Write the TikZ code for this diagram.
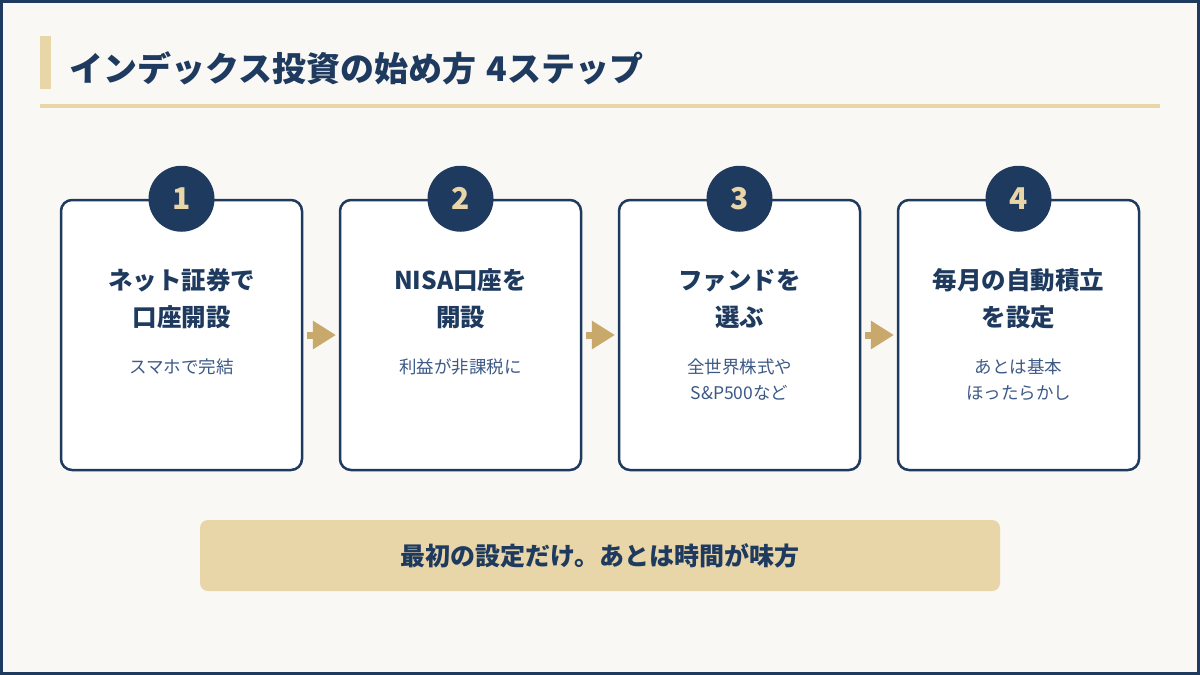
\documentclass[tikz,border=0pt]{standalone}
\usepackage{fontspec}
\setmainfont{Noto Sans CJK JP}
\usepackage{tikz}
\usetikzlibrary{positioning,arrows.meta}
\usepackage{xcolor}
\definecolor{navy}{HTML}{1F3A5F}
\definecolor{sand}{HTML}{E8D5A8}
\definecolor{gold}{HTML}{C8A96B}
\definecolor{paper}{HTML}{FAF8F4}
\definecolor{subblue}{HTML}{3D5A87}

\begin{document}
\begin{tikzpicture}[x=1pt,y=-1pt,
    card/.style={draw=navy, line width=2.5pt, fill=white, rounded corners=11pt,
      minimum width=241pt, minimum height=270pt},
    badge/.style={circle, fill=navy, minimum size=66pt, inner sep=0pt,
      text=sand, font=\fontsize{30}{30}\selectfont\bfseries},
    headtxt/.style={align=center, text=navy, font=\fontsize{24.5}{37}\selectfont\bfseries},
    subtxt/.style={align=center, text=subblue, font=\fontsize{17.5}{26}\selectfont},
    flow/.style={gold, line width=7pt, -{Triangle[length=23pt,width=27pt]},
      shorten <=3.7pt, shorten >=2.8pt}]
    % page
    \useasboundingbox (0,0) rectangle (1200,675);
    \fill[paper] (0,0) rectangle (1200,675);
    \draw[navy, line width=3pt] (1.5,1.5) rectangle (1198.5,673.5);

    % title
    \fill[sand] (40,36) rectangle (51,89);
    \node[anchor=west, text=navy, font=\fontsize{34}{34}\selectfont\bfseries, inner sep=0pt]
      (title) at (69,68) {インデックス投資の始め方\hspace{0.3em}4ステップ};
    \fill[sand] (40,104) rectangle (1160,107.5);

    % cards
    \node[card] (c1) at (181.5,335) {};
    \node[card] (c2) at (460.5,335) {};
    \node[card] (c3) at (739.5,335) {};
    \node[card] (c4) at (1018.5,335) {};

    % step numbers
    \node[badge] (n1) at (c1.north) {1};
    \node[badge] (n2) at (c2.north) {2};
    \node[badge] (n3) at (c3.north) {3};
    \node[badge] (n4) at (c4.north) {4};

    % step texts
    \node[headtxt] (h1) at (181.5,298.5) {ネット証券で\\口座開設};
    \node[subtxt] (s1) at (181.5,367) {スマホで完結};
    \node[headtxt] (h2) at (460.5,298.5) {NISA口座を\\開設};
    \node[subtxt] (s2) at (460.5,367) {利益が非課税に};
    \node[headtxt] (h3) at (739.5,298.5) {ファンドを\\選ぶ};
    \node[subtxt] (s3) at (739.5,380) {全世界株式や\\S\&P500など};
    \node[headtxt] (h4) at (1018.5,298.5) {毎月の自動積立\\を設定};
    \node[subtxt] (s4) at (1018.5,380) {あとは基本\\ほったらかし};

    % arrows between steps
    \draw[flow] (c1.east) -- (c2.west);
    \draw[flow] (c2.east) -- (c3.west);
    \draw[flow] (c3.east) -- (c4.west);

    % bottom message
    \node[fill=sand, rounded corners=8pt, minimum width=800pt, minimum height=71pt,
      text=navy, font=\fontsize{25}{25}\selectfont\bfseries]
      (msg) at (600,555.5) {最初の設定だけ。あとは時間が味方};
\end{tikzpicture}
\end{document}
